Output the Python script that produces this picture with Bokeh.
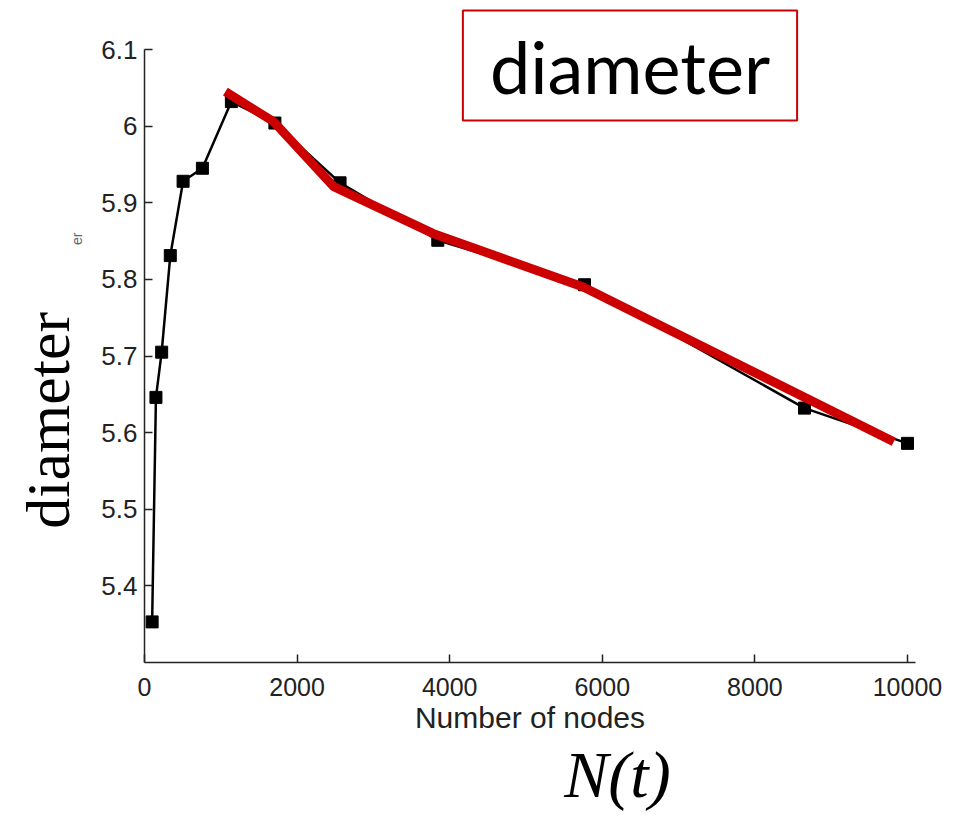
import math
from bokeh.plotting import figure
from bokeh.models import Range1d, FixedTicker, Label, CustomJSTickFormatter
from bokeh.embed import file_html
from bokeh.resources import INLINE

# Measured data (black series, squares)
nodes = [100, 150, 225, 338, 506, 759, 1139, 1709, 2563, 3844, 5767, 8650, 10000]
diam = [5.353, 5.646, 5.705, 5.831, 5.928, 5.945, 6.032, 6.004, 5.926, 5.851, 5.793, 5.632, 5.586]

# Red trend overlay
trend_x = [1060, 1690, 2480, 3780, 5750, 9820]
trend_y = [6.045, 6.006, 5.921, 5.860, 5.790, 5.588]

x_ticks = [0, 2000, 4000, 6000, 8000, 10000]
y_ticks = [5.4, 5.5, 5.6, 5.7, 5.8, 5.9, 6.0, 6.1]

W, H = 950, 815
PX_X = 771 / 10105.0      # pixels per x unit
PX_Y = 613 / 0.8          # pixels per y unit
x0 = -144 / PX_X
x1 = x0 + W / PX_X
y1 = 6.1 + 49 / PX_Y
y0 = y1 - H / PX_Y

p = figure(frame_width=W, frame_height=H, output_backend="svg", toolbar_location=None,
           x_range=Range1d(x0, x1), y_range=Range1d(y0, y1),
           min_border=0)
p.outline_line_color = None
p.xgrid.visible = False
p.ygrid.visible = False
p.background_fill_color = "white"

p.xaxis.fixed_location = 5.3
p.yaxis.fixed_location = 0
p.xaxis.bounds = (0, 10105)
p.yaxis.bounds = (5.3, 6.1)

for ax in (p.xaxis[0], p.yaxis[0]):
    ax.axis_line_color = "#222222"
    ax.axis_line_width = 1.5
    ax.major_tick_line_color = "#222222"
    ax.major_tick_line_width = 1.5
    ax.major_tick_in = 8
    ax.major_tick_out = 0
    ax.minor_tick_line_color = None
    ax.major_label_text_font = "Liberation Sans"
    ax.major_label_text_font_size = "25px"
    ax.major_label_text_color = "#222222"

p.yaxis.major_label_text_font_size = "26px"
p.xaxis.ticker = FixedTicker(ticks=x_ticks)
p.yaxis.ticker = FixedTicker(ticks=y_ticks)
p.yaxis.formatter = CustomJSTickFormatter(code="return String(Math.round(tick*10)/10)")
p.xaxis.major_label_standoff = 15
p.yaxis.major_label_standoff = 7
p.xaxis.axis_label = "Number of nodes"
p.xaxis.axis_label_text_font = "Liberation Sans"
p.xaxis.axis_label_text_font_style = "normal"
p.xaxis.axis_label_text_font_size = "30px"
p.xaxis.axis_label_text_color = "#222222"
p.xaxis.axis_label_standoff = 2

p.line(nodes, diam, line_color="black", line_width=2.5)
p.scatter(nodes, diam, marker="square", size=12, fill_color="black", line_color="black")
p.line(trend_x, trend_y, line_color="#CC0000", line_width=9)

p.add_layout(Label(x=-1260, y=5.616, text="diameter", angle=math.pi / 2,
                   text_font="Liberation Serif", text_font_size="62px",
                   text_align="center", text_baseline="middle", text_color="black"))
p.add_layout(Label(x=-880, y=5.853, text="er", angle=math.pi / 2,
                   text_font="Liberation Sans", text_font_size="14px",
                   text_align="center", text_baseline="middle", text_color="#666666"))
p.add_layout(Label(x=6199, y=5.1538, text="N(t)",
                   text_font="Liberation Serif", text_font_style="italic", text_font_size="66px",
                   text_align="center", text_baseline="middle", text_color="black"))
p.add_layout(Label(x=6363, y=6.079, text="diameter",
                   text_font="Lato", text_font_size="72px",
                   text_align="center", text_baseline="middle", text_color="black",
                   background_fill_color="white", border_line_color="#CC0000", border_line_width=2,
                   padding=dict(left=27, right=27, top=12, bottom=12)))

open("out.html", "w").write(file_html(p, INLINE))
